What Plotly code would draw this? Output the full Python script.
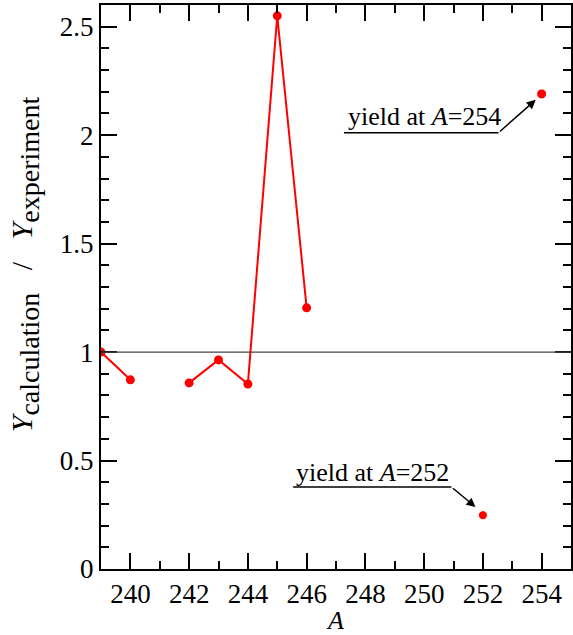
import plotly.graph_objects as go

A_main = [239, 240, 241, 242, 243, 244, 245, 246]
ratio_main = [1.0, 0.872, None, 0.858, 0.964, 0.853, 2.55, 1.204]
A_extra = [252, 254]
ratio_extra = [0.248, 2.19]
x_ticks = [240, 242, 244, 246, 248, 250, 252, 254]
y_ticks = [0, 0.5, 1, 1.5, 2, 2.5]
y_tick_text = ["0", "0.5", "1", "1.5", "2", "2.5"]

FONT = "Liberation Serif"
RED = "#ff0000"

fig = go.Figure()
fig.add_hline(y=1, line=dict(color="#444444", width=1.3))
fig.add_trace(go.Scatter(x=A_main, y=ratio_main, mode="lines+markers",
                         line=dict(color=RED, width=2), marker=dict(color=RED, size=9),
                         connectgaps=False, showlegend=False))
fig.add_trace(go.Scatter(x=A_extra, y=ratio_extra, mode="markers",
                         marker=dict(color=RED, size=[9, 10], opacity=1), showlegend=False))

# annotation underlines and arrows
fig.add_shape(type="line", x0=247.27, x1=252.53, y0=2.011, y1=2.011,
              line=dict(color="black", width=1.5))
fig.add_annotation(x=253.8, y=2.163, ax=252.53, ay=2.011, axref="x", ayref="y",
                   showarrow=True, arrowhead=2, arrowsize=1.2, arrowwidth=1.5,
                   arrowcolor="black", text="")
fig.add_annotation(x=250.0, y=2.088, text="yield at <i>A</i>=254", showarrow=False,
                   font=dict(family=FONT, size=26, color="black"))

fig.add_shape(type="line", x0=245.54, x1=250.93, y0=0.378, y1=0.378,
              line=dict(color="black", width=1.5))
fig.add_annotation(x=251.75, y=0.286, ax=250.93, ay=0.378, axref="x", ayref="y",
                   showarrow=True, arrowhead=2, arrowsize=1.2, arrowwidth=1.5,
                   arrowcolor="black", text="")
fig.add_annotation(x=248.25, y=0.443, text="yield at <i>A</i>=252", showarrow=False,
                   font=dict(family=FONT, size=26, color="black"))

axis_common = dict(showline=True, linecolor="black", linewidth=2, mirror="ticks",
                   ticks="inside", ticklen=16, tickwidth=2, tickcolor="black",
                   showgrid=False, zeroline=False, automargin=False,
                   tickfont=dict(family=FONT, size=27, color="black"))

SUB = "<sub><span style='font-size:28px;font-family:Liberation Serif'>{}</span></sub>"
y_title = ("&nbsp;" * 6 + "<i>Y</i>" + SUB.format("calculation") + "&nbsp;&nbsp;&nbsp;/&nbsp;&nbsp;&nbsp;"
           + "<i>Y</i>" + SUB.format("experiment"))

fig.update_xaxes(range=[239, 255], tickvals=x_ticks,
                 minor=dict(ticks="inside", ticklen=8, tickwidth=2, tickcolor="black", dtick=1, tick0=239),
                 title=dict(text="<i>A</i>", font=dict(family=FONT, size=26, color="black"), standoff=0),
                 **axis_common)
fig.update_yaxes(range=[0, 2.6], tickvals=y_ticks, ticktext=y_tick_text,
                 minor=dict(ticks="inside", ticklen=8, tickwidth=2, tickcolor="black", dtick=0.1, tick0=0),
                 title=dict(text=y_title, font=dict(family=FONT, size=30, color="black"), standoff=18),
                 **axis_common)

fig.update_layout(width=573, height=635, margin=dict(l=101, r=2, t=5, b=66),
                  plot_bgcolor="white", paper_bgcolor="white",
                  font=dict(family=FONT, color="black"))

fig.write_html("out.html", config={"displayModeBar": False},
               post_script="document.body.style.margin='0';")
